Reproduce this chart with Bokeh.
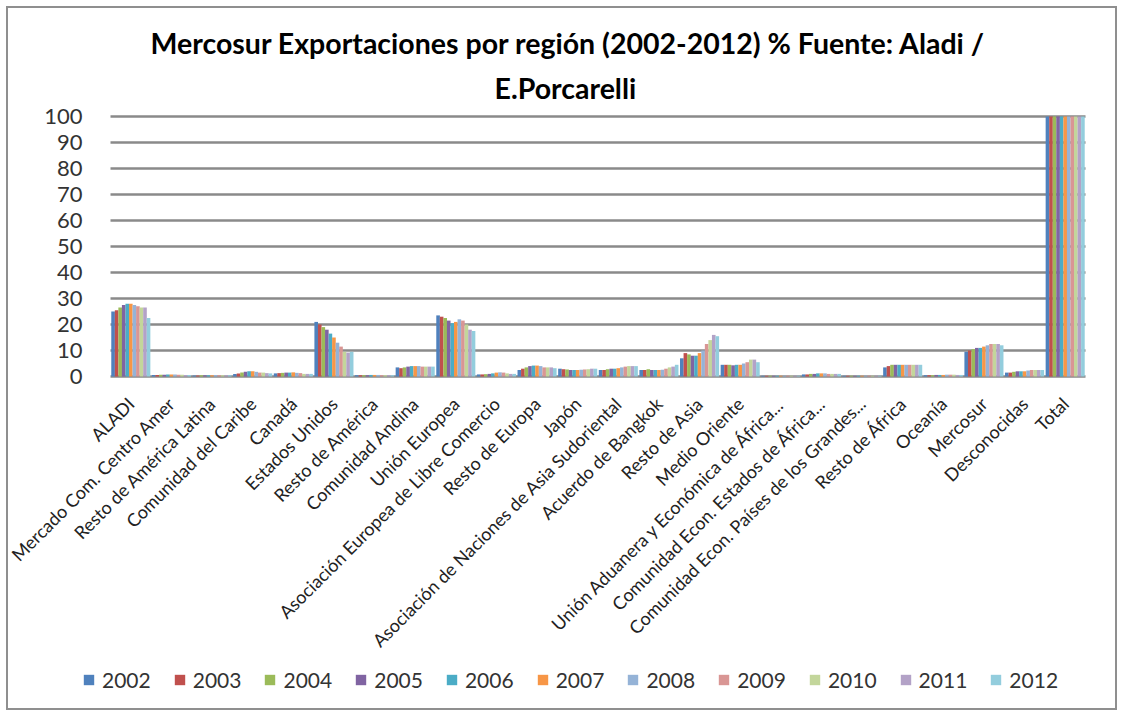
import math
from bokeh.plotting import figure
from bokeh.models import (Range1d, Legend, LegendItem, FixedTicker,
                          ColumnDataSource, Title)
from bokeh.transform import dodge
from bokeh.embed import file_html
from bokeh.resources import INLINE

categories = [
    "ALADI", "Mercado Com. Centro Amer", "Resto de América Latina",
    "Comunidad del Caribe", "Canadá", "Estados Unidos", "Resto de América",
    "Comunidad Andina", "Unión Europea", "Asociación Europea de Libre Comercio",
    "Resto de Europa", "Japón", "Asociación de Naciones de Asia Sudoriental",
    "Acuerdo de Bangkok", "Resto de Asia", "Medio Oriente",
    "Unión Aduanera y Económica de África...", "Comunidad Econ. Estados de África...",
    "Comunidad Econ. Países de los Grandes...", "Resto de África", "Oceanía",
    "Mercosur", "Desconocidas", "Total",
]

years = ["2002", "2003", "2004", "2005", "2006", "2007", "2008", "2009", "2010", "2011", "2012"]

#            ALADI MCCA  RAL  Carib Can  EEUU  RAm  CAN  UE    AELC RE   Jap  ASEAN Bang RAsia MO  UAEA CEEA CEPG RAf  Oce  Merc Desc Total
v2002 = [25.0, 0.6, 0.4, 1.0, 1.2, 21.0, 0.5, 3.5, 23.5, 0.8, 2.5, 3.0, 2.5, 2.5, 7.0, 4.5, 0.3, 0.8, 0.3, 3.5, 0.5, 9.5, 1.5, 100]
v2003 = [25.5, 0.6, 0.4, 1.2, 1.3, 20.0, 0.5, 3.2, 23.0, 0.8, 3.0, 2.8, 2.5, 2.5, 9.0, 4.5, 0.3, 0.8, 0.3, 4.0, 0.5, 10.0, 1.5, 100]
v2004 = [26.5, 0.7, 0.5, 1.5, 1.4, 19.0, 0.5, 3.5, 22.5, 0.9, 3.5, 2.7, 2.8, 2.8, 8.5, 4.5, 0.3, 1.0, 0.3, 4.5, 0.5, 10.5, 1.8, 100]
v2005 = [27.5, 0.7, 0.5, 1.8, 1.5, 18.0, 0.5, 3.8, 21.5, 1.0, 4.0, 2.5, 3.0, 2.5, 8.0, 4.3, 0.3, 1.0, 0.3, 4.5, 0.6, 11.0, 2.0, 100]
v2006 = [28.0, 0.8, 0.5, 2.0, 1.5, 16.5, 0.6, 4.0, 20.5, 1.2, 4.2, 2.5, 3.0, 2.5, 8.0, 4.5, 0.3, 1.2, 0.3, 4.5, 0.6, 11.0, 2.0, 100]
v2007 = [28.0, 0.8, 0.5, 2.0, 1.6, 15.0, 0.6, 4.0, 21.0, 1.5, 4.2, 2.5, 3.2, 2.5, 9.0, 4.5, 0.3, 1.2, 0.3, 4.5, 0.6, 11.5, 2.0, 100]
v2008 = [27.5, 0.8, 0.6, 1.8, 1.4, 13.0, 0.6, 4.0, 22.0, 1.6, 4.0, 2.6, 3.5, 2.6, 10.0, 5.0, 0.3, 1.2, 0.3, 4.5, 0.7, 12.0, 2.3, 100]
v2009 = [27.0, 0.7, 0.5, 1.5, 1.3, 11.5, 0.5, 3.8, 21.5, 1.5, 3.5, 2.7, 3.8, 3.0, 12.5, 5.5, 0.3, 1.0, 0.3, 4.5, 0.7, 12.5, 2.5, 100]
v2010 = [26.5, 0.7, 0.5, 1.5, 1.0, 9.5, 0.5, 3.8, 20.0, 1.2, 3.5, 2.8, 4.0, 3.5, 14.0, 6.5, 0.3, 1.0, 0.3, 4.5, 0.7, 12.5, 2.5, 100]
v2011 = [26.5, 0.6, 0.5, 1.3, 1.0, 9.2, 0.5, 3.8, 18.0, 1.0, 3.5, 3.0, 4.0, 3.8, 16.0, 6.5, 0.3, 1.0, 0.3, 4.5, 0.6, 12.5, 2.5, 100]
v2012 = [22.5, 0.6, 0.5, 1.2, 1.0, 9.5, 0.5, 3.8, 17.5, 1.0, 3.2, 3.0, 4.0, 4.5, 15.5, 5.5, 0.3, 1.0, 0.3, 4.5, 0.6, 12.0, 2.5, 100]

series = [v2002, v2003, v2004, v2005, v2006, v2007, v2008, v2009, v2010, v2011, v2012]
colors = ["#4F81BD", "#C0504D", "#9BBB59", "#8064A2", "#4BACC6", "#F79646",
          "#95B3D7", "#D99694", "#C3D69B", "#B3A2C7", "#93CDDD"]
y_ticks = [0, 10, 20, 30, 40, 50, 60, 70, 80, 90, 100]

n_cat = len(categories)
cat_index = list(range(n_cat))
data = {"x": cat_index, "cat": categories}
for yr, vals in zip(years, series):
    data["y" + yr] = vals
src = ColumnDataSource(data)

FONT = "Lato"

# layout (pixels): categories span page x 110..1085, values 0..100 span page y 376..116
unit = 975 / n_cat
x_start = -(110 - 8) / unit
x_end = n_cat + (1119 - 1085) / unit
y_unit = 2.6
y_end = 100 + (116 - 104) / y_unit
y_start = -(708 - 376) / y_unit

p = figure(width=1111, height=704, output_backend="svg", toolbar_location=None,
           x_range=Range1d(x_start, x_end),
           y_range=Range1d(y_start, y_end),
           min_border_left=0, min_border_right=0,
           min_border_top=96, min_border_bottom=4)
p.styles = {"border": "2px solid #8f8f8f", "margin": "6px 0 0 6px"}

p.title.text = "Mercosur Exportaciones por región (2002-2012) % Fuente: Aladi /"
p.title.align = "left"
p.title.offset = 142
p.title.text_font = FONT
p.title.text_font_size = "28.5px"
p.title.text_font_style = "bold"
p.title.text_color = "#000000"
p.title.standoff = 18

sub = Title(text="E.Porcarelli", align="left", offset=486, text_font=FONT,
            text_font_size="28.5px", text_font_style="bold", text_color="#000000",
            standoff=0)
p.add_layout(sub, "above")

# horizontal gridlines (back wall), spanning the categories only
grid_src = ColumnDataSource({"y": y_ticks,
                             "x0": [cat_index[0]] * len(y_ticks),
                             "x1": [n_cat] * len(y_ticks)})
p.segment(x0="x0", x1="x1", y0="y", y1="y", source=grid_src,
          line_color="#8a8a8a", line_width=2.5)

n = len(years)
group_w = 0.96
bw = group_w / n
items = []
for i, yr in enumerate(years):
    off = 0.5 - group_w / 2 + (i + 0.5) * bw
    r = p.vbar(x=dodge("x", off), top="y" + yr, width=bw * 1.02,
               source=src, fill_color=colors[i], line_color=None)
    items.append(LegendItem(label=yr, renderers=[r]))

legend = Legend(items=items, orientation="horizontal", location=(74, 16),
                glyph_width=13, glyph_height=13, label_text_font=FONT,
                label_text_font_size="21px", label_text_color="#333333",
                label_standoff=7, spacing=22, padding=0, margin=0,
                background_fill_alpha=0, border_line_color=None)
p.add_layout(legend, "center")

p.outline_line_color = None
p.grid.visible = False

p.yaxis.ticker = FixedTicker(ticks=y_ticks)
p.yaxis.fixed_location = 0
p.yaxis.axis_line_color = None
p.yaxis.major_tick_line_color = None
p.yaxis.minor_tick_line_color = None
p.yaxis.major_label_text_font = FONT
p.yaxis.major_label_text_font_size = "22px"
p.yaxis.major_label_text_color = "#333333"
p.yaxis.major_label_standoff = 22

tick_pos = [i + 0.5 for i in cat_index]
p.xaxis.ticker = FixedTicker(ticks=tick_pos, minor_ticks=[])
p.xaxis.major_label_overrides = {t: c for t, c in zip(tick_pos, categories)}
p.xaxis.fixed_location = 0
p.xaxis.axis_line_color = None
p.xaxis.major_tick_line_color = None
p.xaxis.minor_tick_line_color = None
p.xaxis.major_label_orientation = math.pi / 4
p.xaxis.major_label_text_font = FONT
p.xaxis.major_label_text_font_size = "18px"
p.xaxis.major_label_text_color = "#222222"
p.xaxis.major_label_standoff = 18

open("out.html", "w").write(file_html(p, INLINE))
